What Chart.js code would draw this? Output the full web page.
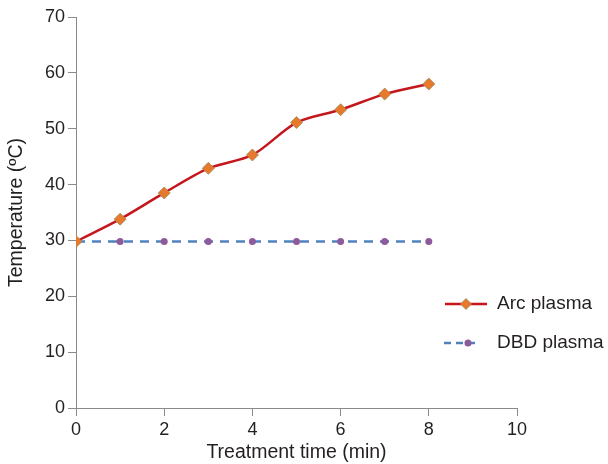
<!DOCTYPE html>
<html><head><meta charset="utf-8">
<script src="https://cdn.jsdelivr.net/npm/chart.js@4"></script>
<style>html,body{margin:0;padding:0;background:#fff}#wrap{width:608px;height:464px;position:relative}</style>
</head><body><div id="wrap"><canvas id="c" width="608" height="464"></canvas></div>
<script>
const times = [0, 1, 2, 3, 4, 5, 6, 7, 8];
const arcPlasma = [29.8, 33.8, 38.5, 42.9, 45.3, 51.1, 53.4, 56.2, 58.0];
const dbdPlasma = [29.8, 29.8, 29.8, 29.8, 29.8, 29.8, 29.8, 29.8, 29.8];
const seriesNames = ["Arc plasma", "DBD plasma"];
const xTitle = "Treatment time (min)";
const yTitle = "Temperature (ºC)";

const FONT = "'Liberation Sans', Arial, sans-serif";
const axisColor = '#8a8a8a';

const legendPlugin = {
  id: 'customLegend',
  afterDraw(chart) {
    const ctx = chart.ctx;
    ctx.save();
    // Arc plasma
    let y = 304;
    ctx.strokeStyle = '#c4161c'; ctx.lineWidth = 2.5; ctx.setLineDash([]);
    ctx.beginPath(); ctx.moveTo(445, y); ctx.lineTo(487, y); ctx.stroke();
    ctx.fillStyle = '#e8782a'; ctx.strokeStyle = '#9a8a5a'; ctx.lineWidth = 0.8;
    ctx.beginPath(); ctx.moveTo(466, y-5.5); ctx.lineTo(471.5, y); ctx.lineTo(466, y+5.5); ctx.lineTo(460.5, y); ctx.closePath(); ctx.fill(); ctx.stroke();
    ctx.fillStyle = '#231f20'; ctx.font = '19px ' + FONT; ctx.textBaseline = 'middle'; ctx.textAlign = 'left';
    ctx.fillText(chart.data.datasets[0].label, 497, y);
    // DBD plasma
    y = 343;
    ctx.strokeStyle = '#4f81bd'; ctx.lineWidth = 2.5; ctx.setLineDash([7, 5]);
    ctx.beginPath(); ctx.moveTo(444, y); ctx.lineTo(476, y); ctx.stroke();
    ctx.setLineDash([]);
    ctx.fillStyle = '#8e5a9c';
    ctx.beginPath(); ctx.arc(468, y, 3.5, 0, Math.PI*2); ctx.fill();
    ctx.fillStyle = '#231f20';
    ctx.fillText(chart.data.datasets[1].label, 497, y);
    ctx.restore();
  }
};

new Chart(document.getElementById('c'), {
  type: 'line',
  data: {
    datasets: [
      {
        label: seriesNames[0],
        data: times.map((t, i) => ({x: t, y: arcPlasma[i]})),
        borderColor: '#c4161c', borderWidth: 2.5, tension: 0.3,
        pointStyle: 'rectRot', pointRadius: 6, pointBackgroundColor: '#e8782a',
        pointBorderColor: '#9a8a5a', pointBorderWidth: 0.8, order: 1
      },
      {
        label: seriesNames[1],
        data: times.map((t, i) => ({x: t, y: dbdPlasma[i]})),
        borderColor: '#4f81bd', borderWidth: 2.5, borderDash: [9, 7],
        pointStyle: 'circle', pointRadius: 3.5, pointBackgroundColor: '#8e5a9c',
        pointBorderColor: '#8e5a9c', pointBorderWidth: 0, order: 2
      }
    ]
  },
  options: {
    responsive: false, animation: false,
    layout: { padding: { top: 17, right: 91, left: 0, bottom: 0 } },
    plugins: { legend: { display: false }, tooltip: { enabled: false } },
    scales: {
      x: {
        type: 'linear', min: 0, max: 10,
        ticks: { stepSize: 2, color: '#231f20', font: { family: FONT, size: 18 }, padding: 3 },
        grid: { drawOnChartArea: false, drawTicks: true, tickLength: 8, color: axisColor },
        border: { display: true, color: axisColor, width: 1 },
        title: { display: true, text: xTitle, color: '#231f20', font: { family: FONT, size: 19.5 }, padding: { top: 0, bottom: 0 } },
        afterFit(s) { s.height = 56; }
      },
      y: {
        min: 0, max: 70,
        ticks: { stepSize: 10, color: '#231f20', font: { family: FONT, size: 18 }, padding: 3 },
        grid: { drawOnChartArea: false, drawTicks: true, tickLength: 8, color: axisColor },
        border: { display: true, color: axisColor, width: 1 },
        title: { display: true, text: yTitle, color: '#231f20', font: { family: FONT, size: 19.5 }, padding: { top: 5, bottom: 0 } },
        afterFit(s) { s.width = 76; }
      }
    }
  },
  plugins: [legendPlugin]
});
</script></body></html>
